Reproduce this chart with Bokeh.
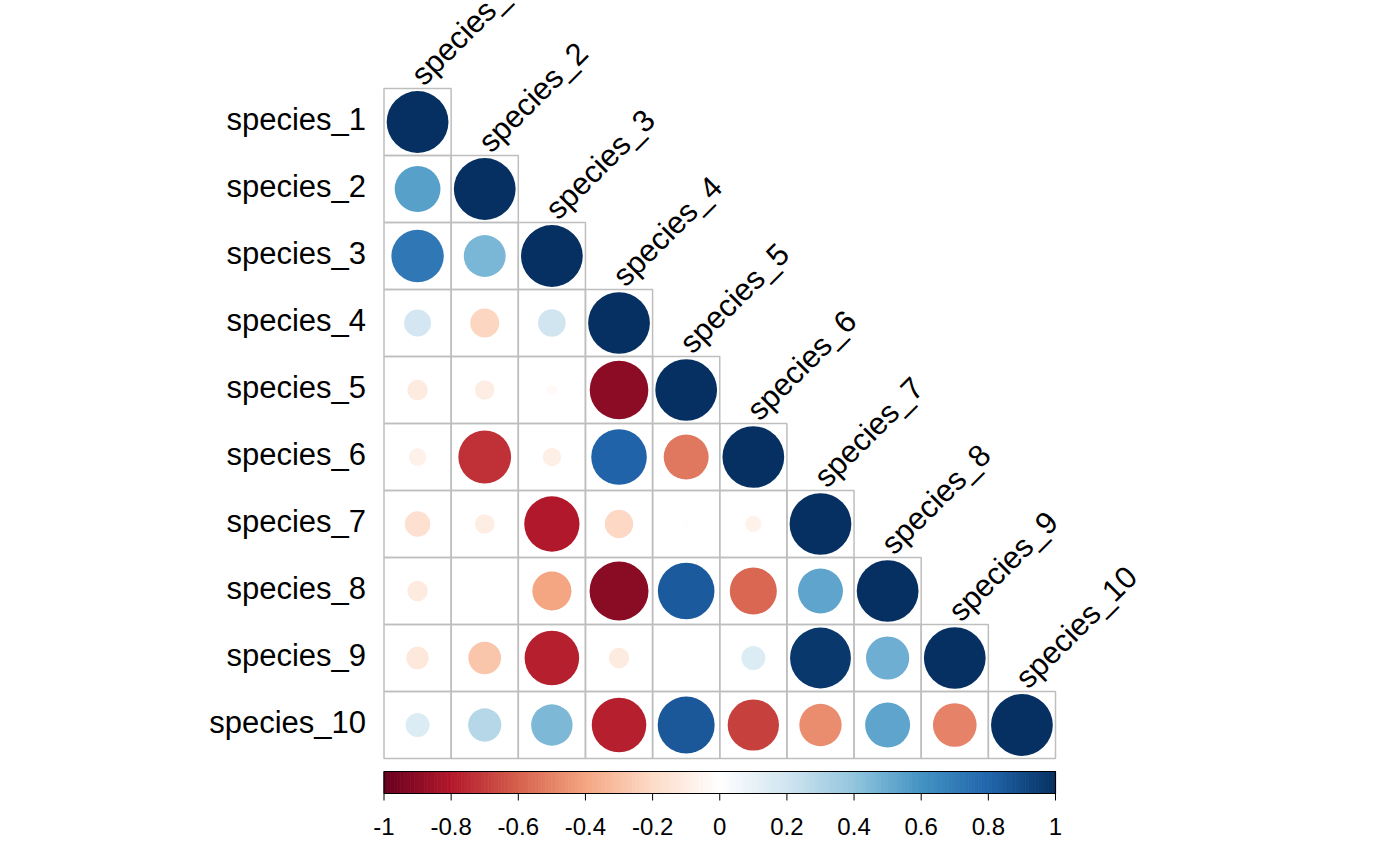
import numpy as np
from bokeh.plotting import figure
from bokeh.models import Range1d, ColumnDataSource
from bokeh.core.properties import value
from bokeh.embed import file_html
from bokeh.resources import INLINE

# ---------------- data ----------------
species = ["species_1", "species_2", "species_3", "species_4", "species_5",
           "species_6", "species_7", "species_8", "species_9", "species_10"]

# lower triangle of the correlation matrix (row i: columns 1..i)
row_1 = [1.0]
row_2 = [0.55, 1.0]
row_3 = [0.72, 0.46, 1.0]
row_4 = [0.19, -0.22, 0.20, 1.0]
row_5 = [-0.11, -0.10, -0.03, -0.90, 1.0]
row_6 = [-0.08, -0.73, -0.09, 0.81, -0.53, 1.0]
row_7 = [-0.17, -0.10, -0.80, -0.21, -0.012, -0.07, 1.0]
row_8 = [-0.11, 0.005, -0.40, -0.91, 0.84, -0.58, 0.53, 1.0]
row_9 = [-0.13, -0.28, -0.78, -0.11, 0.003, 0.15, 0.97, 0.49, 1.0]
row_10 = [0.15, 0.29, 0.45, -0.78, 0.85, -0.69, -0.47, 0.53, -0.50, 1.0]
rows = [row_1, row_2, row_3, row_4, row_5, row_6, row_7, row_8, row_9, row_10]

tick_values = [-1, -0.8, -0.6, -0.4, -0.2, 0, 0.2, 0.4, 0.6, 0.8, 1]
tick_labels = ["-1", "-0.8", "-0.6", "-0.4", "-0.2", "0", "0.2", "0.4", "0.6", "0.8", "1"]

rdbu_anchors = ["#67001F", "#B2182B", "#D6604D", "#F4A582", "#FDDBC7", "#FFFFFF",
                "#D1E5F0", "#92C5DE", "#4393C3", "#2166AC", "#053061"]

# ---------------- helpers ----------------
def _rgb(h):
    h = h.lstrip("#")
    return np.array([int(h[k:k + 2], 16) for k in (0, 2, 4)], dtype=float)

_anch = np.array([_rgb(c) for c in rdbu_anchors])

def corr_color(r):
    t = (float(r) + 1.0) / 2.0 * (len(_anch) - 1)
    t = min(max(t, 0.0), len(_anch) - 1)
    i = int(np.floor(t))
    if i >= len(_anch) - 1:
        c = _anch[-1]
    else:
        f = t - i
        c = _anch[i] * (1 - f) + _anch[i + 1] * f
    return "#%02x%02x%02x" % tuple(int(round(v)) for v in c)

# ---------------- geometry ----------------
W, H = 1400, 866
n = len(species)
CX = 67.15          # px per column
CY = 67.0           # px per row
X0 = 383.5          # left edge of grid (px)
Y0 = 88.0           # top edge of grid (px)
Y_BOT = Y0 + n * CY

x_range = Range1d(-X0 / CX, (W - X0) / CX)
y_range = Range1d(-(H - Y_BOT) / CY, n + Y0 / CY)

p = figure(width=W, height=H, x_range=x_range, y_range=y_range,
           output_backend="svg", toolbar_location=None,
           x_axis_location=None, y_axis_location=None,
           min_border=0, min_border_left=0, min_border_right=0,
           min_border_top=0, min_border_bottom=0)
p.outline_line_color = None
p.grid.visible = False
p.background_fill_color = "white"
p.border_fill_color = "white"

# cells
cx, cy, rad, col = [], [], [], []
for i, row in enumerate(rows):
    for j, r in enumerate(row):
        cx.append(j + 0.5)
        cy.append(n - i - 0.5)
        rad.append(0.46 * np.sqrt(abs(r)))
        col.append(corr_color(r))
src = ColumnDataSource(dict(x=cx, y=cy, rad=rad, color=col))

p.rect(x="x", y="y", width=1, height=1, source=src, fill_color=None,
       line_color="#BEBEBE", line_width=1.5)
p.circle(x="x", y="y", radius="rad", source=src, fill_color="color",
         line_color=None)

# row labels (left)
p.text(x=[-18 / CX] * n, y=[n - i - 0.5 + 3 / CY for i in range(n)], text=species,
       text_align="right", text_baseline="middle",
       text_font=value("Liberation Sans"), text_font_size="31px",
       text_color="black")

# column labels (rotated, above diagonal)
p.text(x=[j + 0.5 - 1 / CX for j in range(n)],
       y=[n - j + 9 / CY for j in range(n)], text=species,
       angle=np.pi / 4, text_align="left", text_baseline="alphabetic",
       text_font=value("Liberation Sans"), text_font_size="31px",
       text_color="black")

# colour bar
NB = 200
bar_top = -(771 - Y_BOT) / CY
bar_bot = -(793 - Y_BOT) / CY
edges = np.linspace(0, n, NB + 1)
mids = (edges[:-1] + edges[1:]) / 2
bar_cols = [corr_color(m / n * 2 - 1) for m in mids]
p.quad(left=edges[:-1], right=edges[1:], top=bar_top, bottom=bar_bot,
       fill_color=bar_cols, line_color=bar_cols, line_width=0.8)
p.quad(left=[0], right=[n], top=[bar_top], bottom=[bar_bot],
       fill_color=None, line_color="black", line_width=1.2)

tx = [(v + 1) / 2 * n for v in tick_values]
tick_end = -(800 - Y_BOT) / CY
p.segment(x0=tx, y0=[bar_bot] * len(tx), x1=tx, y1=[tick_end] * len(tx),
          line_color="black", line_width=1)
p.text(x=tx, y=[-(826 - Y_BOT) / CY] * len(tx), text=tick_labels,
       text_align="center", text_baseline="alphabetic",
       text_font=value("Liberation Sans"), text_font_size="24px",
       text_color="black")

open("out.html", "w").write(file_html(p, INLINE))
